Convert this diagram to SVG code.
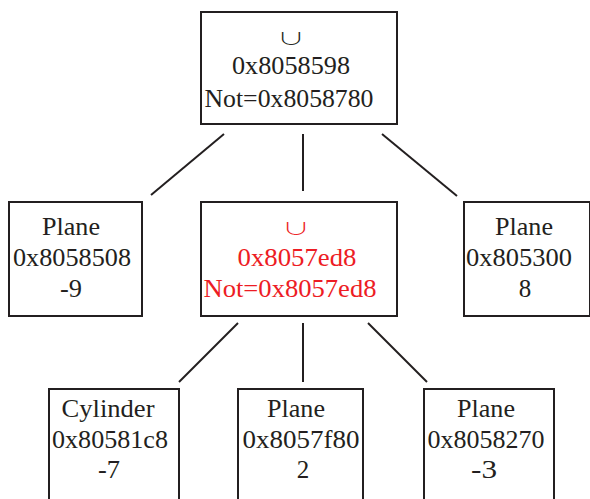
<svg xmlns="http://www.w3.org/2000/svg" width="590" height="499" viewBox="0 0 590 499">
<style>
.box{fill:#fff;stroke:#231f20;stroke-width:2}
.t{font-family:"Liberation Serif","Times New Roman",serif;font-size:25px;fill:#231f20;text-anchor:middle}
.r{fill:#ed1c24}
.e{stroke:#231f20;stroke-width:2;fill:none}
.u{font-family:"Noto Sans CJK SC","DejaVu Sans",sans-serif;font-weight:300;font-size:28px;text-anchor:middle}
</style>
<rect width="590" height="499" fill="#fff"/>
<g id="connectors">
<line class="e" x1="224" y1="134" x2="151" y2="195"/>
<line class="e" x1="303" y1="134" x2="303" y2="191"/>
<line class="e" x1="382" y1="134" x2="457" y2="196"/>
<line class="e" x1="238" y1="323" x2="179" y2="382"/>
<line class="e" x1="303" y1="323" x2="303" y2="382"/>
<line class="e" x1="368" y1="323" x2="427" y2="382"/>
</g>
<g id="n0">
<rect class="box" x="201" y="12" width="196" height="112"/>
<text class="t u" transform="translate(291,45) scale(1,0.6)" x="0" y="0">∪</text>
<text class="t" x="291" y="74" textLength="118" lengthAdjust="spacingAndGlyphs">0x8058598</text>
<text class="t" x="289" y="107" textLength="169" lengthAdjust="spacingAndGlyphs">Not=0x8058780</text>
</g>
<g id="n1">
<rect class="box" x="9" y="202" width="133" height="114"/>
<text class="t" x="71" y="235" textLength="58" lengthAdjust="spacingAndGlyphs">Plane</text>
<text class="t" x="72" y="266" textLength="118" lengthAdjust="spacingAndGlyphs">0x8058508</text>
<text class="t" x="71" y="297" textLength="22" lengthAdjust="spacingAndGlyphs">-9</text>
</g>
<g id="n2">
<rect class="box" x="201" y="202" width="196" height="114"/>
<text class="t u r" transform="translate(296,235) scale(1,0.6)" x="0" y="0">∪</text>
<text class="t r" x="297" y="266" textLength="119" lengthAdjust="spacingAndGlyphs">0x8057ed8</text>
<text class="t r" x="290" y="297" textLength="173" lengthAdjust="spacingAndGlyphs">Not=0x8057ed8</text>
</g>
<g id="n3">
<rect class="box" x="464" y="202" width="126" height="114"/>
<text class="t" x="524" y="235" textLength="58" lengthAdjust="spacingAndGlyphs">Plane</text>
<text class="t" x="519" y="266" textLength="106" lengthAdjust="spacingAndGlyphs">0x805300</text>
<text class="t" x="525" y="297">8</text>
</g>
<g id="n4">
<rect class="box" x="49" y="389" width="130" height="120"/>
<text class="t" x="108" y="417" textLength="93" lengthAdjust="spacingAndGlyphs">Cylinder</text>
<text class="t" x="110" y="448" textLength="116" lengthAdjust="spacingAndGlyphs">0x80581c8</text>
<text class="t" x="109" y="478" textLength="22" lengthAdjust="spacingAndGlyphs">-7</text>
</g>
<g id="n5">
<rect class="box" x="238" y="389" width="125" height="120"/>
<text class="t" x="296" y="417" textLength="58" lengthAdjust="spacingAndGlyphs">Plane</text>
<text class="t" x="301" y="448" textLength="117" lengthAdjust="spacingAndGlyphs">0x8057f80</text>
<text class="t" x="303" y="478">2</text>
</g>
<g id="n6">
<rect class="box" x="424" y="389" width="130" height="120"/>
<text class="t" x="486" y="417" textLength="58" lengthAdjust="spacingAndGlyphs">Plane</text>
<text class="t" x="486" y="448" textLength="117" lengthAdjust="spacingAndGlyphs">0x8058270</text>
<text class="t" x="484" y="478" textLength="26" lengthAdjust="spacingAndGlyphs">-3</text>
</g>
</svg>
